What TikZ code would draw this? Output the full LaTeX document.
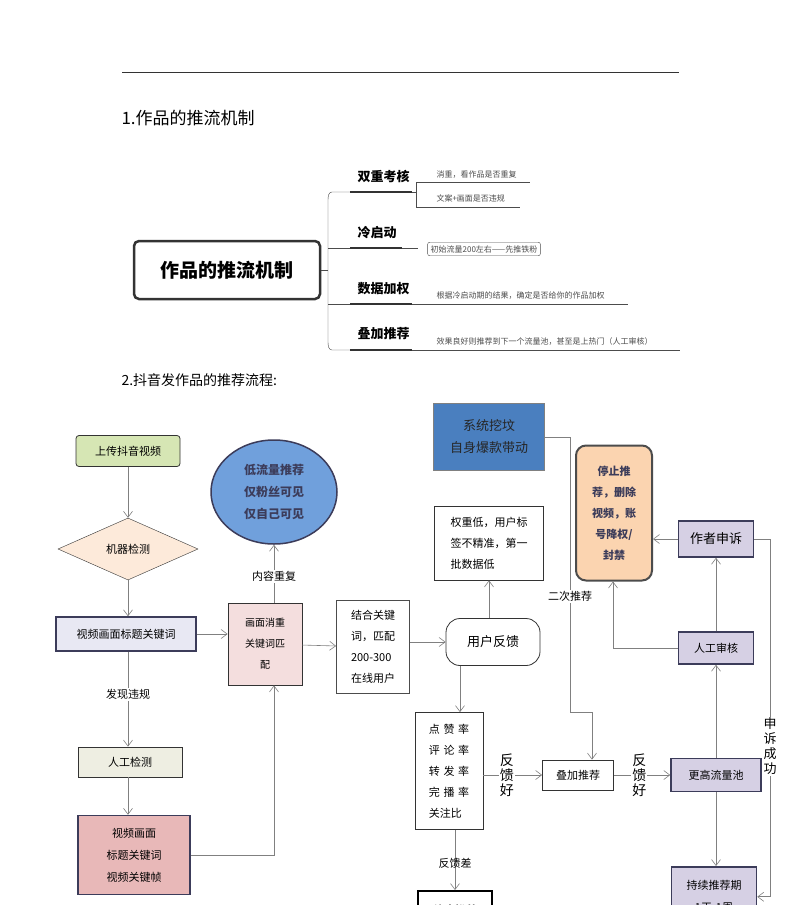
\documentclass[tikz,border=0pt]{standalone}
\usepackage{fontspec}
\setmainfont{Noto Sans CJK SC}
\usetikzlibrary{arrows.meta,positioning,shapes.geometric}
\definecolor{lnGray}{RGB}{128,128,128}
\definecolor{upGreen}{RGB}{214,230,180}
\definecolor{dmPeach}{RGB}{253,234,218}
\definecolor{kwLav}{RGB}{232,232,243}
\definecolor{rvBeige}{RGB}{238,238,226}
\definecolor{kfPink}{RGB}{232,184,184}
\definecolor{elBlue}{RGB}{112,160,220}
\definecolor{dpPink}{RGB}{244,222,222}
\definecolor{syBlue}{RGB}{74,127,191}
\definecolor{spOrange}{RGB}{251,212,176}
\definecolor{auLav}{RGB}{214,208,228}
\definecolor{bdNavy}{RGB}{60,60,90}
\tikzset{
  flow/.style={draw=lnGray, semithick, -{Straight Barb[length=6pt,width=9pt]}},
  box/.style={draw=black!80, thick, minimum height=30pt, align=center, font=\fontsize{11}{15}\selectfont},
  lav/.style={box, fill=auLav, draw=bdNavy, line width=1.5pt},
  lbl/.style={fill=white, inner sep=1pt, font=\fontsize{11}{14}\selectfont},
  vlbl/.style={inner sep=1pt, align=center, font=\fontsize{14}{15}\selectfont},
  branch/.style={font=\bfseries\fontsize{13}{15}\selectfont, anchor=base},
  leaf/.style={font=\fontsize{8}{10}\selectfont, text=black!70, anchor=base west},
}
\begin{document}
\begin{tikzpicture}[x=1pt,y=-1pt]
\useasboundingbox[fill=white] (0,0) rectangle (800,905);
\clip (0,0) rectangle (800,905);
% Header
\draw[black!80] (122,72) -- (679,72);
\node[anchor=west, font=\fontsize{17}{20}\selectfont] (h1) at (118,118) {1.作品的推流机制};
% Mind map
\node[draw=black!80, line width=2.5pt, rounded corners=5pt, minimum width=186pt, minimum height=58pt,
  font=\bfseries\fontsize{19}{22}\selectfont] (root) at (227,270) {作品的推流机制};
\draw[black!70] (root.east) -- (328,270);
\draw[black!70] (350,192) -- (332,192) to[out=180,in=90] (328,200) -- (328,342) to[out=-90,in=180] (332,350) -- (350,350);
\foreach \yy in {248,304} \draw[black!70] (328,\yy) -- (350,\yy);
\foreach \yy/\txt in {181/双重考核,237/冷启动,293/数据加权,338/叠加推荐} {
  \node[branch, anchor=base west] at (354,\yy) {\txt};
}
\foreach \yy/\len in {192/62,248/52,304/62,350/62} \draw[line width=2.5pt, black!80] (350,\yy) -- ++(\len,0);
% leaves
\draw[black!70] (412,192) -- (416,192) (416,182) -- (416,207) (416,182) -- (530,182) (416,207) -- (520,207);
\node[leaf] (l1) at (433,177) {消重，看作品是否重复};
\node[leaf] (l2) at (433,201) {文案+画面是否违规};
\draw[black!70] (402,248) -- (418,248);
\node[draw=black!70, rounded corners=2pt, inner sep=3pt, font=\fontsize{8}{10}\selectfont, text=black!70] (l3) at (484,249) {初始流量200左右——先推铁粉};
\draw[black!70] (412,304) -- (628,304);
\node[leaf] (l4) at (433,298) {根据冷启动期的结果，确定是否给你的作品加权};
\draw[black!70] (412,350) -- (680,350);
\node[leaf] (l5) at (433,344) {效果良好则推荐到下一个流量池，甚至是上热门（人工审核）};
\node[anchor=west, font=\fontsize{14}{17}\selectfont] (h2) at (118,380) {2.抖音发作品的推荐流程:};
% Flowchart nodes
\node[box, fill=upGreen, rounded corners=3pt, minimum width=104pt, minimum height=31pt] (up) at (128,451) {上传抖音视频};
\node[diamond, draw=black!80, fill=dmPeach, aspect=2.3, minimum width=140pt, minimum height=62pt, inner sep=0pt, font=\fontsize{11}{14}\selectfont] (dm) at (128,549) {机器检测};
\node[box, fill=kwLav, draw=bdNavy, line width=1.5pt, minimum width=140pt, minimum height=34pt] (kw) at (126,634) {视频画面标题关键词};
\node[box, fill=rvBeige, minimum width=104pt, minimum height=30pt] (rv) at (130,762) {人工检测};
\node[box, fill=kfPink, draw=bdNavy, line width=1.5pt, minimum width=112pt, minimum height=79pt, font=\fontsize{11}{22}\selectfont] (kf) at (134,855) {视频画面\\标题关键词\\视频关键帧};
\node[ellipse, draw=bdNavy, line width=1.5pt, fill=elBlue, minimum width=126pt, minimum height=104pt,
  align=center, font=\bfseries\fontsize{12}{22}\selectfont, text=bdNavy] (lo) at (274,492) {低流量推荐\\仅粉丝可见\\仅自己可见};
\node[box, fill=dpPink, minimum width=74pt, minimum height=82pt, font=\fontsize{10}{21}\selectfont] (dp) at (265,644) {画面消重\\关键词匹\\配};
\node[box, draw=black!70, minimum width=73pt, minimum height=93pt, align=left, font=\fontsize{11}{21}\selectfont] (mt) at (373,647) {结合关键\\词，匹配\\200-300\\在线用户};
\node[box, rounded corners=14pt, minimum width=94pt, minimum height=47pt, font=\fontsize{13}{15}\selectfont] (fb) at (493,642) {用户反馈};
\node[box, draw=black!80, minimum width=109pt, minimum height=74pt, align=left, font=\fontsize{11}{21}\selectfont] (lw) at (489,543) {权重低，用户标\\签不精准，第一\\批数据低};
\node[box, fill=syBlue, draw=black!50, minimum width=111pt, minimum height=67pt, font=\fontsize{13}{22}\selectfont, text=black!85] (sy) at (489,437) {系统挖坟\\自身爆款带动};
\node[box, fill=spOrange, draw=black!70, line width=2pt, rounded corners=10pt, minimum width=76pt, minimum height=135pt,
  font=\bfseries\fontsize{11}{21}\selectfont, text=bdNavy] (sp) at (614,513) {停止推\\荐，删除\\视频，账\\号降权/\\封禁};
\node[lav, minimum width=75pt, minimum height=36pt, font=\fontsize{13}{15}\selectfont] (ap) at (716,539) {作者申诉};
\node[lav, minimum width=75pt, minimum height=32pt] (ar) at (716,648) {人工审核};
\node[box, minimum width=68pt, minimum height=117pt, align=left, font=\fontsize{11}{21}\selectfont] (dz) at (449,771) {点\,\,赞\,\,率\\评\,\,论\,\,率\\转\,\,发\,\,率\\完\,\,播\,\,率\\关注比};
\node[box, minimum width=71pt, minimum height=30pt] (dj) at (578,775) {叠加推荐};
\node[lav, minimum width=90pt, minimum height=33pt] (gh) at (716,775) {更高流量池};
\node[lav, minimum width=85pt, minimum height=60pt, anchor=north, font=\fontsize{11}{22}\selectfont] (cx) at (714,866) {持续推荐期\\1天-1周};
\node[box, draw=black, line width=1.5pt, minimum width=74pt, minimum height=40pt, anchor=north, font=\bfseries\fontsize{11}{30}\selectfont] (tz) at (455,890) {停止推荐};
% Connectors
\coordinate (xkf) at (274,0);
\coordinate (xsy) at (570,0);
\coordinate (syd) at (570,712);
\coordinate (sye) at (592,712);
\coordinate (xar) at (613,0);
\coordinate (xap) at (770,0);
\coordinate (xfb) at (460,0);
\coordinate (xdz) at (455,0);
\coordinate (xlf) at (128,0);
\draw[flow] (up) -- (dm);
\draw[flow] (dm) -- (kw.north -| xlf);
\draw[flow] (kw.south -| xlf) -- node[lbl, pos=0.45] (wg) {发现违规} (rv.north -| xlf);
\draw[flow] (rv.south -| xlf) -- (kf.north -| xlf);
\draw[flow] (kf.east) -- (kf.east -| xkf) -- (dp.south -| xkf);
\draw[flow] (kw.east) -- (dp.west |- kw.east);
\draw[flow] (dp.north -| lo.south) -- node[lbl, pos=0.45] (nr) {内容重复} (lo.south);
\draw[flow] (dp) -- (mt);
\draw[flow] (mt.east |- fb) -- (fb);
\draw[flow] (fb.north -| lw.south) -- (lw.south);
\draw[flow] (fb.south -| xfb) -- (dz.north -| xfb);
\draw[flow] (dz.east |- dj) -- node[vlbl, pos=0.4, fill=white] (hg1) {反\\馈\\好} (dj);
\draw[flow] (dj) -- node[vlbl, pos=0.45, fill=white] (hg2) {反\\馈\\好} (gh);
\draw[flow] (sy.east) -- (sy.east -| xsy) -- node[lbl, pos=0.58] (ec) {二次推荐} (syd) -- (sye) -- (dj.north -| sye);
\draw[flow] (gh) -- (ar);
\draw[flow] (ar) -- (ap);
\draw[flow] (ap) -- (sp.east |- ap);
\draw[flow] (ar.west) -- (ar.west -| xar) -- (sp.south -| xar);
\draw[flow] (gh) -- (cx.north -| gh);
\draw[flow] (ap.east) -- (ap.east -| xap) -- node[vlbl, pos=0.58, fill=white, font=\fontsize{13}{15}\selectfont] (ss) {申\\诉\\成\\功} (cx.east -| xap) -- (cx.east);
\draw[flow] (dz.south -| xdz) -- node[lbl, pos=0.55, fill=none] (hc) {反馈差} (tz.north -| xdz);
\end{tikzpicture}
\end{document}
